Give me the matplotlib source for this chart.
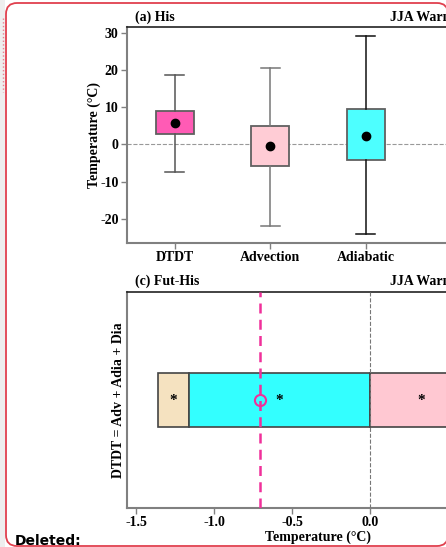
import numpy as np
import matplotlib.pyplot as plt
from matplotlib.patches import FancyBboxPatch, Rectangle

plt.rcParams['font.family'] = ['Liberation Serif', 'DejaVu Serif']
plt.rcParams['font.weight'] = 'bold'
plt.rcParams['axes.unicode_minus'] = False

# (a) His - box statistics (deg C)
categories = ['DTDT', 'Advection', 'Adiabatic']
box_q1 = [2.7, -5.7, -4.1]
box_q3 = [8.9, 4.9, 9.5]
whis_lo = [-7.3, -21.9, -24.0]
whis_hi = [18.6, 20.5, 29.2]
box_mean = [5.7, -0.3, 2.4]
box_colors = ['#FF5BB5', '#FFCCD5', '#4DFFFF']
whis_colors = ['#555555', '#777777', '#111111']

# (c) Fut-His decomposition (deg C)
seg_names = ['Diabatic', 'Adiabatic', 'Advection']
seg_left = [-1.36, -1.16, 0.0]
seg_width = [0.20, 1.16, 0.66]
seg_colors = ['#F5E2C0', '#33FFFF', '#FFC8D2']
dtdt_change = -0.705

fig = plt.figure(figsize=(4.46, 5.47), dpi=100)

# background / comment frame in pixel units
bg = fig.add_axes([0, 0, 1, 1], zorder=-5)
bg.set_xlim(0, 446)
bg.set_ylim(547, 0)
bg.axis('off')
bg.add_patch(Rectangle((0, 0), 5, 547, facecolor='#EEEEEE', edgecolor='none'))
bg.add_patch(FancyBboxPatch((6, 3), 442, 543, boxstyle='round,pad=0,rounding_size=11',
                            facecolor='white', edgecolor='#E0404E', linewidth=1.3))
bg.plot([3, 3], [18, 92], color='#E88090', linestyle=':', linewidth=1)
bg.text(15, 541, 'Deleted:', family='DejaVu Sans', fontsize=10, fontweight='bold',
        va='center', ha='left')


def style_axes(ax):
    for s in ['left', 'bottom']:
        ax.spines[s].set_color('#808080')
        ax.spines[s].set_linewidth(1.5)
    ax.spines['top'].set_color('#222222')
    ax.spines['top'].set_linewidth(1.2)
    ax.tick_params(direction='out', length=4, width=1, color='#808080',
                   labelsize=10, pad=2)
    for lab in ax.get_xticklabels() + ax.get_yticklabels():
        lab.set_fontweight('bold')


# ---------- (a) His ----------
ax1 = fig.add_axes([127/446, 1-243/547, 382/446, 216/547])
stats = []
for i in range(len(box_q1)):
    stats.append({'med': box_mean[i], 'q1': box_q1[i], 'q3': box_q3[i],
                  'whislo': whis_lo[i], 'whishi': whis_hi[i],
                  'mean': box_mean[i], 'fliers': []})
for i, st in enumerate(stats):
    ax1.bxp([st], positions=[i], widths=0.4, patch_artist=True, showmeans=True,
            boxprops=dict(facecolor=box_colors[i], edgecolor='#606060', linewidth=1.3),
            whiskerprops=dict(color=whis_colors[i], linewidth=1.1),
            capprops=dict(color=whis_colors[i], linewidth=1.1),
            medianprops=dict(linewidth=0),
            meanprops=dict(marker='o', markerfacecolor='black',
                           markeredgecolor='black', markersize=6))
ax1.axhline(0, color='#999999', linestyle='--', linewidth=0.8, zorder=0)
ax1.set_xlim(-0.5, 3.5)
ax1.set_ylim(-26.5, 31.6)
ax1.set_yticks([-20, -10, 0, 10, 20, 30])
ax1.set_xticks(range(len(categories)))
ax1.set_xticklabels(categories)
ax1.set_ylabel('Temperature (°C)', fontsize=10, fontweight='bold')
ax1.yaxis.set_label_coords(-0.067, 0.5)
style_axes(ax1)
ax1.text(8/382, 1+10/216, '(a) His', transform=ax1.transAxes, fontsize=10,
         fontweight='bold', va='center', ha='left')
ax1.text(263/382, 1+10/216, 'JJA Warming', transform=ax1.transAxes, fontsize=10,
         fontweight='bold', va='center', ha='left')

# ---------- (c) Fut-His ----------
ax2 = fig.add_axes([127/446, 1-508/547, 382/446, 216/547])
ax2.barh([0]*len(seg_left), seg_width, left=seg_left, height=0.5,
         color=seg_colors, edgecolor='#444444', linewidth=1.2, zorder=2)
for l, w in zip(seg_left, seg_width):
    ax2.text(l + w/2, 0, '*', fontsize=11, fontweight='bold',
             ha='center', va='center', zorder=4)
ax2.axvline(0, color='#777777', linestyle='--', linewidth=0.8, zorder=3)
ax2.axvline(dtdt_change, color='#F0309A', linestyle=(0, (4, 2.5)), linewidth=1.8, zorder=3)
ax2.plot([dtdt_change], [0], marker='o', markersize=8, markerfacecolor='none',
         markeredgecolor='#F0309A', markeredgewidth=1.5, zorder=4)
ax2.set_xlim(-1.558, 0.891)
ax2.set_ylim(-1, 1)
ax2.set_yticks([])
ax2.set_xticks([-1.5, -1.0, -0.5, 0.0])
ax2.set_xlabel('Temperature (°C)', fontsize=10, fontweight='bold', labelpad=1)
ax2.set_ylabel('DTDT = Adv + Adia + Dia', fontsize=10, fontweight='bold')
ax2.yaxis.set_label_coords(-0.004, 0.5)
style_axes(ax2)
ax2.text(8/382, 1+11/216, '(c) Fut-His', transform=ax2.transAxes, fontsize=10,
         fontweight='bold', va='center', ha='left')
ax2.text(263/382, 1+11/216, 'JJA Warming', transform=ax2.transAxes, fontsize=10,
         fontweight='bold', va='center', ha='left')

fig.savefig('out.png', dpi=100)
